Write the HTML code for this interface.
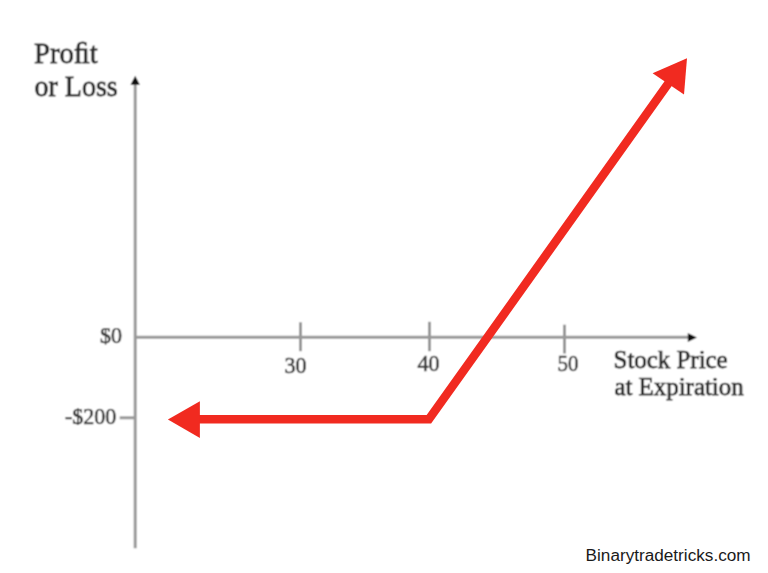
<!DOCTYPE html>
<html>
<head>
<meta charset="utf-8">
<style>
html,body{margin:0;padding:0;background:#fff;width:768px;height:573px;overflow:hidden;}
svg{display:block;}
#wrap{width:768px;height:573px;}
.s{font-family:"Liberation Serif",serif;fill:#2a2a2a;stroke:#2a2a2a;stroke-width:0.75px;}
.t{fill:#3a3a3a;stroke:#3a3a3a;stroke-width:0.6px;}
.w{font-family:"Liberation Sans",sans-serif;fill:#1a1a1a;}
</style>
</head>
<body><div id="wrap">
<svg width="768" height="573" viewBox="0 0 768 573">
<defs><clipPath id="c0"><rect x="90" y="328.2" width="40" height="16.6"/></clipPath><clipPath id="c2"><rect x="60" y="408.2" width="60" height="16.8"/></clipPath><filter id="bl" x="0" y="0" width="768" height="573" filterUnits="userSpaceOnUse"><feConvolveMatrix order="3" kernelMatrix="1 2 1 2 4 2 1 2 1" divisor="16" edgeMode="duplicate" preserveAlpha="true"/></filter></defs>
<g filter="url(#bl)">
<rect width="768" height="573" fill="#fff"/>
<!-- axes -->
<g stroke="#999" stroke-width="3" fill="none">
<line x1="135.2" y1="84" x2="135.2" y2="548.3"/>
<line x1="135.2" y1="337.3" x2="688" y2="337.3"/>
<line x1="300.5" y1="322.3" x2="300.5" y2="351.2"/>
<line x1="429.5" y1="321.8" x2="429.5" y2="351.2"/>
<line x1="564.5" y1="324.7" x2="564.5" y2="353.5"/>
<line x1="119.7" y1="417.8" x2="135.2" y2="417.8"/>
</g>
<polygon points="135.2,75.8 130.5,84.7 139.9,84.7" fill="#111"/>
<polygon points="697,337.4 687.8,333 687.8,341.9" fill="#111"/>
<!-- labels -->
<text class="s" transform="translate(34,63.1) scale(1,1.05)" font-size="28.7">Pro&#xFB01;t</text>
<text class="s" transform="translate(34.5,95.5) scale(1,1.08)" font-size="28">or Loss</text>
<g clip-path="url(#c0)"><text class="s t" transform="translate(100,343) scale(1,1.08)" font-size="22">$0</text></g>
<g clip-path="url(#c2)"><text class="s t" transform="translate(65,424.3) scale(1,1.08)" font-size="22">-$200</text></g>
<text class="s t" transform="translate(284.5,373) scale(1,1.08)" font-size="22">30</text>
<text class="s t" transform="translate(417.5,370.5) scale(1,1.08)" font-size="22">40</text>
<text class="s t" transform="translate(557.5,371) scale(0.95,1.08)" font-size="22">50</text>
<text class="s" transform="translate(613.6,367.6) scale(1,1.0)" font-size="24.9">Stock Price</text>
<text class="s" transform="translate(614.4,394.6) scale(1,1.0)" font-size="24.9">at Expiration</text>
</g>
<!-- red payoff -->
<polyline points="192,419.3 428.9,419.3 672.7,77.3" fill="none" stroke="#f12a20" stroke-width="8.6" stroke-linejoin="miter"/>
<polygon points="167.9,419.4 199.9,401.3 199.9,438" fill="#f12a20"/>
<polygon points="687,58.2 652.6,73.2 684,94.6" fill="#f12a20"/>
<text class="w" x="585.6" y="560.8" font-size="15.6" textLength="165" lengthAdjust="spacingAndGlyphs">Binarytradetricks.com</text>
</svg></div>
</body>
</html>
